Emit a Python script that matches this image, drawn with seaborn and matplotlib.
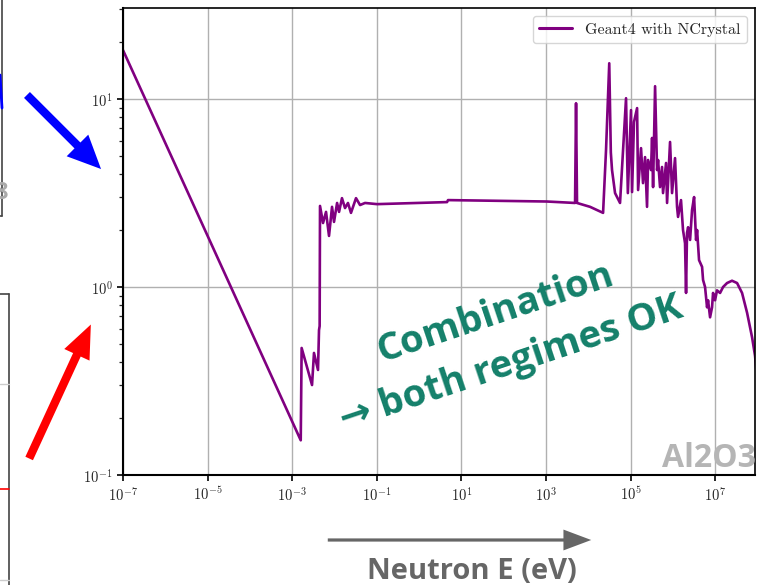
import matplotlib
matplotlib.use("Agg")
import matplotlib.pyplot as plt
import seaborn as sns
import pandas as pd
import numpy as np
from matplotlib.patches import FancyArrowPatch
from matplotlib.lines import Line2D
from matplotlib.ticker import NullLocator, LogLocator, FuncFormatter

# ---------------- data ----------------
energy_ev = [
    1.0e-7, 1.59e-3, 1.67e-3, 2.94e-3, 3.27e-3, 4.07e-3, 4.30e-3, 4.45e-3,
    4.54e-3, 5.35e-3, 6.30e-3, 7.41e-3, 8.73e-3, 9.73e-3, 1.15e-2, 1.28e-2,
    1.50e-2, 1.77e-2, 2.08e-2, 2.45e-2, 3.22e-2, 4.01e-2, 5.26e-2, 0.101,
    4.57, 4.82, 1057.0, 4853.0, 5.12e3, 5.40e3, 1.10e4, 2.23e4,
    2.62e4, 3.12e4, 3.40e4, 3.63e4, 4.28e4, 5.61e4, 7.78e4, 8.59e4,
    1.02e5, 1.08e5, 1.20e5, 1.42e5, 1.50e5, 1.76e5, 1.96e5, 2.19e5,
    2.44e5, 2.58e5, 3.03e5, 3.21e5, 3.39e5, 3.78e5, 4.21e5, 4.45e5,
    4.95e5, 5.52e5, 5.83e5, 6.87e5, 7.26e5, 8.54e5, 9.52e5, 1.12e6,
    1.25e6, 1.32e6, 1.55e6, 1.73e6, 1.93e6, 2.04e6, 2.15e6, 2.28e6,
    2.54e6, 2.83e6, 3.16e6, 3.52e6, 3.72e6, 4.14e6, 4.88e6, 5.15e6,
    5.74e6, 6.40e6, 6.76e6, 7.54e6, 8.40e6, 8.87e6, 9.89e6, 1.10e7,
    1.30e7, 1.53e7, 1.90e7, 2.49e7, 3.28e7, 4.30e7, 5.65e7, 7.42e7,
    8.73e7, 1.0e8,
]
xs_barn = [
    18.2, 0.153, 0.474, 0.301, 0.446, 0.362, 0.590, 0.62,
    2.70, 2.19, 2.51, 1.87, 2.67, 2.22, 2.80, 2.51,
    2.97, 2.63, 2.80, 2.48, 2.97, 2.73, 2.80, 2.76,
    2.83, 2.90, 2.85, 2.80, 9.5, 2.80, 2.67, 2.48,
    5.36, 15.5, 5.2, 4.19, 3.16, 2.80, 10.1, 3.16,
    8.73, 3.20, 7.55, 8.95, 3.28, 5.48, 3.57, 4.91,
    2.67, 4.74, 4.19, 6.21, 3.40, 11.7, 4.19, 4.74,
    3.40, 4.35, 3.16, 4.57, 2.80, 5.91, 3.16, 4.85,
    2.67, 2.36, 2.90, 2.01, 1.71, 0.93, 1.94, 2.08,
    1.78, 2.57, 3.01, 1.78, 2.01, 1.39, 1.28, 1.09,
    1.00, 0.78, 0.85, 0.69, 0.78, 0.93, 0.85, 0.96,
    0.93, 1.00, 1.05, 1.08, 1.05, 0.93, 0.73, 0.54,
    0.43, 0.30,
]
series_label = "Geant4 with NCrystal"
x_major_ticks = [1e-7, 1e-5, 1e-3, 1e-1, 1e1, 1e3, 1e5, 1e7]
material_label = "Al2O3"
note_line1 = "Combination"
note_line2 = "\u2192 both regimes OK"
xaxis_label = "Neutron E (eV)"

df = pd.DataFrame({"E": energy_ev, "xs": xs_barn})

# ---------------- style ----------------
sns.set_style("white")
plt.rcParams["mathtext.fontset"] = "cm"

W, H = 761, 585
fig = plt.figure(figsize=(W / 100, H / 100), dpi=100)
def fx(x):
    return x / W
def fy(y):
    return 1 - y / H

ax = fig.add_axes([fx(123), fy(475), (755 - 123) / W, (475 - 8) / H])

sns.lineplot(data=df, x="E", y="xs", ax=ax, color="#800080", linewidth=1.9,
             estimator=None, sort=False, label=series_label)

ax.set_xscale("log")
ax.set_yscale("log")
ax.set_xlim(1e-7, 8.7e7)
ax.set_ylim(0.1, 30.5)
ax.set_xticks(x_major_ticks)
ax.xaxis.set_minor_locator(NullLocator())
ax.yaxis.set_major_locator(LogLocator(base=10))
ax.yaxis.set_minor_locator(LogLocator(base=10, subs=range(2, 10)))
pow_fmt = FuncFormatter(lambda v, p: r"$10^{%d}$" % int(round(np.log10(v))))
ax.xaxis.set_major_formatter(pow_fmt)
ax.yaxis.set_major_formatter(pow_fmt)
ax.set_xlabel("")
ax.set_ylabel("")
ax.grid(True, which="major", color="#b0b0b0", linewidth=1.0)
ax.tick_params(axis="both", which="major", direction="out", length=4.5, width=1.2,
               labelsize=10.5, left=True, bottom=True, colors="black",
               labelcolor="#262626", pad=3)
ax.tick_params(axis="y", which="minor", direction="out", length=2.6, width=0.9, left=True)
for s in ax.spines.values():
    s.set_color("black")
    s.set_linewidth(1.2)
ax.spines["left"].set_linewidth(1.5)
ax.spines["bottom"].set_linewidth(1.5)

leg = ax.legend(loc="upper right", prop={"family": "cmr10", "size": 11.5},
                fancybox=True, framealpha=0.8, edgecolor="#cccccc",
                handlelength=2.1, borderpad=0.4)
for h in leg.get_lines():
    h.set_linewidth(2.2)

# material label inside axes
fig.text(fx(756), fy(467), material_label, ha="right", va="baseline",
         fontsize=23, fontweight="bold", color="#b5b5b5", family=["Open Sans", "DejaVu Sans"])

# rotated green note
green = "#14806a"
fig.text(fx(382), fy(362), note_line1, rotation=18.5, rotation_mode="anchor",
         ha="left", va="baseline", fontsize=27.5, fontweight="bold", color=green,
         family=["Open Sans", "DejaVu Sans"])
fig.text(fx(344), fy(430), note_line2, rotation=18.5, rotation_mode="anchor",
         ha="left", va="baseline", fontsize=27.5, fontweight="bold", color=green,
         family=["Open Sans", "DejaVu Sans"])

# bottom axis arrow and label
fig.add_artist(FancyArrowPatch((fx(325), fy(540)), (fx(594), fy(540)),
               transform=fig.transFigure, mutation_scale=1,
               arrowstyle="simple,head_length=20,head_width=15,tail_width=2.3",
               color="#666666", linewidth=0))
fig.text(fx(472), fy(579), xaxis_label, ha="center", va="baseline",
         fontsize=21, fontweight="bold", color="#666666", family=["Open Sans", "DejaVu Sans"])

# blue and red slide arrows
fig.add_artist(FancyArrowPatch((fx(25), fy(93)), (fx(103), fy(171)),
               transform=fig.transFigure, mutation_scale=1,
               arrowstyle="simple,head_length=24,head_width=22,tail_width=6",
               color="#0000ff", linewidth=0))
fig.add_artist(FancyArrowPatch((fx(28), fy(461)), (fx(92), fy(322)),
               transform=fig.transFigure, mutation_scale=1,
               arrowstyle="simple,head_length=24,head_width=20,tail_width=6",
               color="#ff0000", linewidth=0))

# fragments of neighbouring panels at the left edge
frag = [
    ((2, 2), (0, 216), "#444444", 1.2),
    ((0, 2), (216, 216), "#444444", 1.2),
    ((0, 2), (75, 108), "#0000ff", 2.0),
    ((0, 9), (294, 294), "#444444", 1.2),
    ((9, 9), (294, 585), "#444444", 1.2),
    ((0, 9), (384, 384), "#cccccc", 1.0),
    ((0, 9), (489, 489), "#ff0000", 1.2),
    ((0, 9), (580, 580), "#cccccc", 1.0),
]
for (x0, x1), (y0, y1), c, lw in frag:
    fig.add_artist(Line2D([fx(x0), fx(x1)], [fy(y0), fy(y1)], transform=fig.transFigure,
                          color=c, linewidth=lw))
fig.text(fx(-6), fy(199), "8", ha="left", va="baseline", fontsize=17, fontweight="bold",
         color="#aaaaaa", family=["Open Sans", "DejaVu Sans"])

fig.savefig("out.png", dpi=100)
